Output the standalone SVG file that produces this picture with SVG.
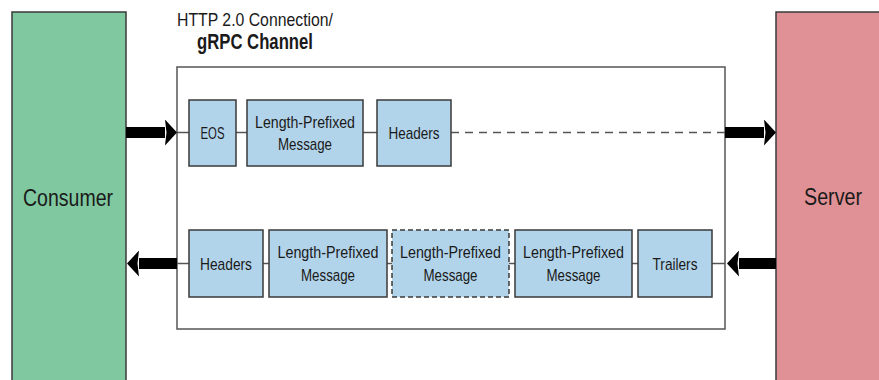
<svg xmlns="http://www.w3.org/2000/svg" width="879" height="380" viewBox="0 0 879 380">
  <style>
    .label { font-family: "Liberation Sans", Arial, sans-serif; fill: #1a1a1a; text-anchor: middle; }
    .big { font-size: 24px; }
    .box-text { font-size: 17px; }
    .title { font-size: 18.5px; }
    .title-bold { font-size: 22px; font-weight: bold; }
    .endpoint { stroke: #3a3a3a; stroke-width: 1.5; }
    .consumer { fill: #80c8a0; }
    .server { fill: #df9195; }
    .channel { fill: #ffffff; stroke: #555555; stroke-width: 1.5; }
    .msg { fill: #b2d4ea; stroke: #3a3a3a; stroke-width: 1.5; }
    .msg-dashed { fill: #b2d4ea; stroke: #3a3a3a; stroke-width: 1.5; stroke-dasharray: 5 3; }
    .link { stroke: #555555; stroke-width: 1.5; fill: none; }
    .link-dashed { stroke: #555555; stroke-width: 1.5; fill: none; stroke-dasharray: 8 6; }
    .flow { stroke: #000000; stroke-width: 11; fill: none; marker-end: url(#head); }
  </style>
  <defs>
    <marker id="head" markerUnits="userSpaceOnUse" viewBox="0 0 12 26" markerWidth="12" markerHeight="26" refX="0" refY="13" orient="auto">
      <path d="M0,0 L12,13 L0,26 L1.5,13 Z" fill="#000000"/>
    </marker>
  </defs>

  <rect width="879" height="380" fill="#ffffff"/>

  <!-- endpoints -->
  <g id="consumer">
    <rect class="endpoint consumer" x="12" y="12" width="114" height="380"/>
    <text class="label big" x="68" y="206" textLength="90" lengthAdjust="spacingAndGlyphs">Consumer</text>
  </g>
  <g id="server">
    <rect class="endpoint server" x="776" y="12" width="120" height="380"/>
    <text class="label big" x="833" y="205" textLength="58" lengthAdjust="spacingAndGlyphs">Server</text>
  </g>

  <!-- HTTP/2 connection carrying the gRPC channel -->
  <g id="channel">
    <rect class="channel" x="177" y="67" width="548" height="262"/>
    <text class="label title" x="255" y="26" textLength="156" lengthAdjust="spacingAndGlyphs">HTTP 2.0 Connection/</text>
    <text class="label title-bold" x="255" y="49" textLength="116" lengthAdjust="spacingAndGlyphs">gRPC Channel</text>
  </g>

  <!-- connectors -->
  <g id="connectors">
    <line class="flow" x1="126" y1="132.5" x2="165" y2="132.5"/>
    <line class="flow" x1="725" y1="132.5" x2="764" y2="132.5"/>
    <line class="flow" x1="776" y1="263.5" x2="739" y2="263.5"/>
    <line class="flow" x1="177" y1="263.5" x2="139" y2="263.5"/>

    <line class="link" x1="177" y1="132.5" x2="189" y2="132.5"/>
    <line class="link" x1="236" y1="132.5" x2="247" y2="132.5"/>
    <line class="link" x1="363" y1="132.5" x2="377" y2="132.5"/>
    <line class="link-dashed" x1="451" y1="132.5" x2="725" y2="132.5"/>

    <line class="link" x1="177" y1="263.5" x2="189" y2="263.5"/>
    <line class="link" x1="263" y1="263.5" x2="269" y2="263.5"/>
    <line class="link" x1="387" y1="263.5" x2="392" y2="263.5"/>
    <line class="link" x1="509" y1="263.5" x2="515" y2="263.5"/>
    <line class="link" x1="632" y1="263.5" x2="638" y2="263.5"/>
    <line class="link" x1="712" y1="263.5" x2="725" y2="263.5"/>
  </g>

  <!-- request stream -->
  <g id="req-eos">
    <rect class="msg" x="189" y="100" width="47" height="66"/>
    <text class="label box-text" x="212.5" y="139" textLength="24" lengthAdjust="spacingAndGlyphs">EOS</text>
  </g>
  <g id="req-message">
    <rect class="msg" x="247" y="100" width="116" height="66"/>
    <text class="label box-text" x="305" y="128" textLength="100" lengthAdjust="spacingAndGlyphs">Length-Prefixed</text>
    <text class="label box-text" x="305" y="149.5" textLength="54" lengthAdjust="spacingAndGlyphs">Message</text>
  </g>
  <g id="req-headers">
    <rect class="msg" x="377" y="100" width="74" height="66"/>
    <text class="label box-text" x="414" y="139" textLength="51" lengthAdjust="spacingAndGlyphs">Headers</text>
  </g>

  <!-- response stream -->
  <g id="resp-headers">
    <rect class="msg" x="189" y="230" width="74" height="67"/>
    <text class="label box-text" x="226" y="269.5" textLength="52" lengthAdjust="spacingAndGlyphs">Headers</text>
  </g>
  <g id="resp-message-1">
    <rect class="msg" x="269" y="230" width="118" height="67"/>
    <text class="label box-text" x="328" y="257.5" textLength="101" lengthAdjust="spacingAndGlyphs">Length-Prefixed</text>
    <text class="label box-text" x="328" y="280.5" textLength="54" lengthAdjust="spacingAndGlyphs">Message</text>
  </g>
  <g id="resp-message-2">
    <rect class="msg-dashed" x="392" y="230" width="117" height="67"/>
    <text class="label box-text" x="450.5" y="257.5" textLength="101" lengthAdjust="spacingAndGlyphs">Length-Prefixed</text>
    <text class="label box-text" x="450.5" y="280.5" textLength="54" lengthAdjust="spacingAndGlyphs">Message</text>
  </g>
  <g id="resp-message-3">
    <rect class="msg" x="515" y="230" width="117" height="67"/>
    <text class="label box-text" x="573.5" y="257.5" textLength="101" lengthAdjust="spacingAndGlyphs">Length-Prefixed</text>
    <text class="label box-text" x="573.5" y="280.5" textLength="54" lengthAdjust="spacingAndGlyphs">Message</text>
  </g>
  <g id="resp-trailers">
    <rect class="msg" x="638" y="230" width="74" height="67"/>
    <text class="label box-text" x="675" y="269.5" textLength="45" lengthAdjust="spacingAndGlyphs">Trailers</text>
  </g>
</svg>
